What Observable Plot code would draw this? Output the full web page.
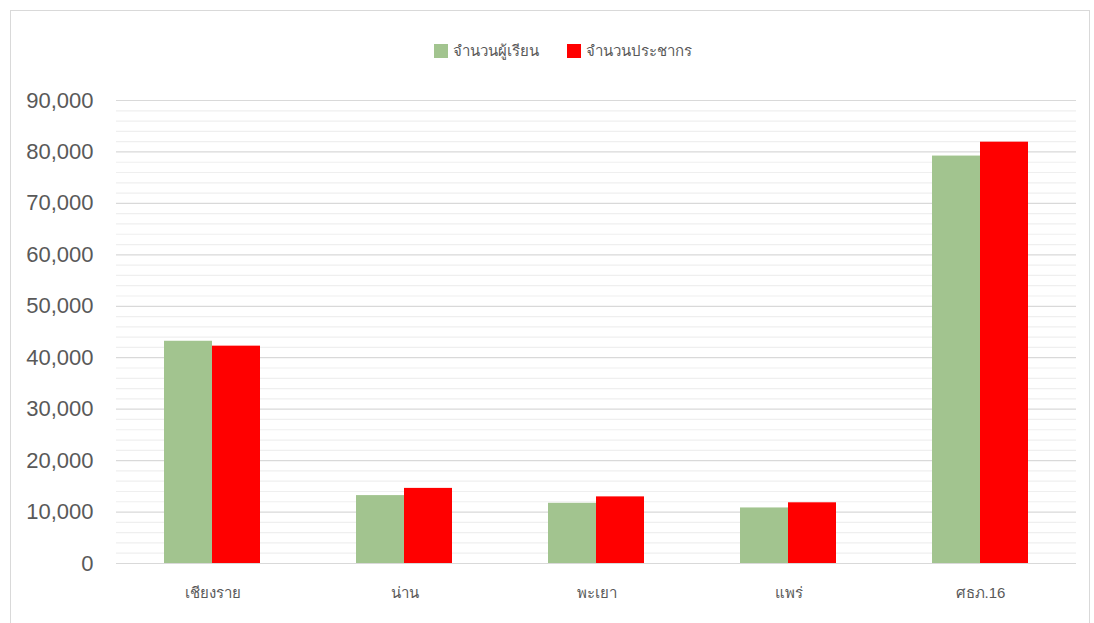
<!DOCTYPE html>
<html><head><meta charset="utf-8">
<script src="https://cdn.jsdelivr.net/npm/d3@7"></script>
<script src="https://cdn.jsdelivr.net/npm/@observablehq/plot@0.6"></script>
<style>
body{margin:0;background:#fff;}
#wrap{position:relative;width:1094px;height:623px;overflow:hidden;font-family:"Liberation Sans","Noto Sans",sans-serif;}
#frame{position:absolute;left:10px;top:10px;width:1078px;height:620px;border:1px solid #d9d9d9;}
#legend{position:absolute;top:39px;left:16px;width:1094px;display:flex;justify-content:center;gap:0;font-size:15px;color:#595959;}
.item{display:flex;align-items:center;margin:0 14px;}
.sw{width:14px;height:14px;margin-right:5px;}
#chart{position:absolute;left:0;top:80px;}
</style></head>
<body><div id="wrap"><div id="frame"></div><div id="legend"></div><div id="chart"></div></div>
<script>
const categories = ["เชียงราย","น่าน","พะเยา","แพร่","ศธภ.16"];
const seriesNames = ["จำนวนผู้เรียน","จำนวนประชากร"];
const students = [43200, 13200, 11700, 10800, 79200];
const population = [42250, 14600, 12950, 11800, 81900];
const colors = ["#a2c48f","#ff0000"];
const yTicks = [0,10000,20000,30000,40000,50000,60000,70000,80000,90000];
const minorTicks = d3.range(0, 90001, 2000).filter(v => v % 10000 !== 0);

const data = [];
categories.forEach((c,i)=>{
  data.push({cat:c, series:seriesNames[0], value:students[i]});
  data.push({cat:c, series:seriesNames[1], value:population[i]});
});

const legend = document.getElementById("legend");
seriesNames.forEach((s,i)=>{
  const d = document.createElement("div"); d.className="item";
  d.innerHTML = `<div class="sw" style="background:${colors[i]}"></div><span>${s}</span>`;
  legend.appendChild(d);
});

const fmt = d3.format(",");
const chart = Plot.plot({
  width: 1094, height: 543,
  marginTop: 20, marginBottom: 60, marginLeft: 116, marginRight: 18,
  style: {fontFamily: '"Liberation Sans","Noto Sans",sans-serif', background: "transparent"},
  fx: {domain: categories, padding: 0, axis: "bottom", label: null, tickSize: 0, tickPadding: 24, fontSize: 15},
  x: {domain: seriesNames, axis: null, paddingInner: 0, paddingOuter: 1},
  y: {domain: [0, 90000], ticks: yTicks, tickFormat: fmt, tickSize: 0, tickPadding: 23, label: null, fontSize: 22},
  color: {domain: seriesNames, range: colors},
  marks: [
    Plot.ruleY(minorTicks, {stroke: "#efefef", strokeWidth: 1.2}),
    Plot.ruleY(yTicks, {stroke: "#d9d9d9", strokeWidth: 1.2}),
    Plot.barY(data, {fx: "cat", x: "series", y: "value", fill: "series", inset: 0})
  ]
});
chart.querySelectorAll("text").forEach(t=>t.setAttribute("fill","#595959"));
chart.querySelectorAll('[aria-label="y-axis tick label"], [aria-label="y-axis tick label"] text').forEach(g=>{g.setAttribute("font-size","22");});
chart.querySelectorAll('[aria-label="fx-axis tick label"]').forEach(g=>{g.setAttribute("font-size","15");});
document.getElementById("chart").appendChild(chart);
</script></body></html>
